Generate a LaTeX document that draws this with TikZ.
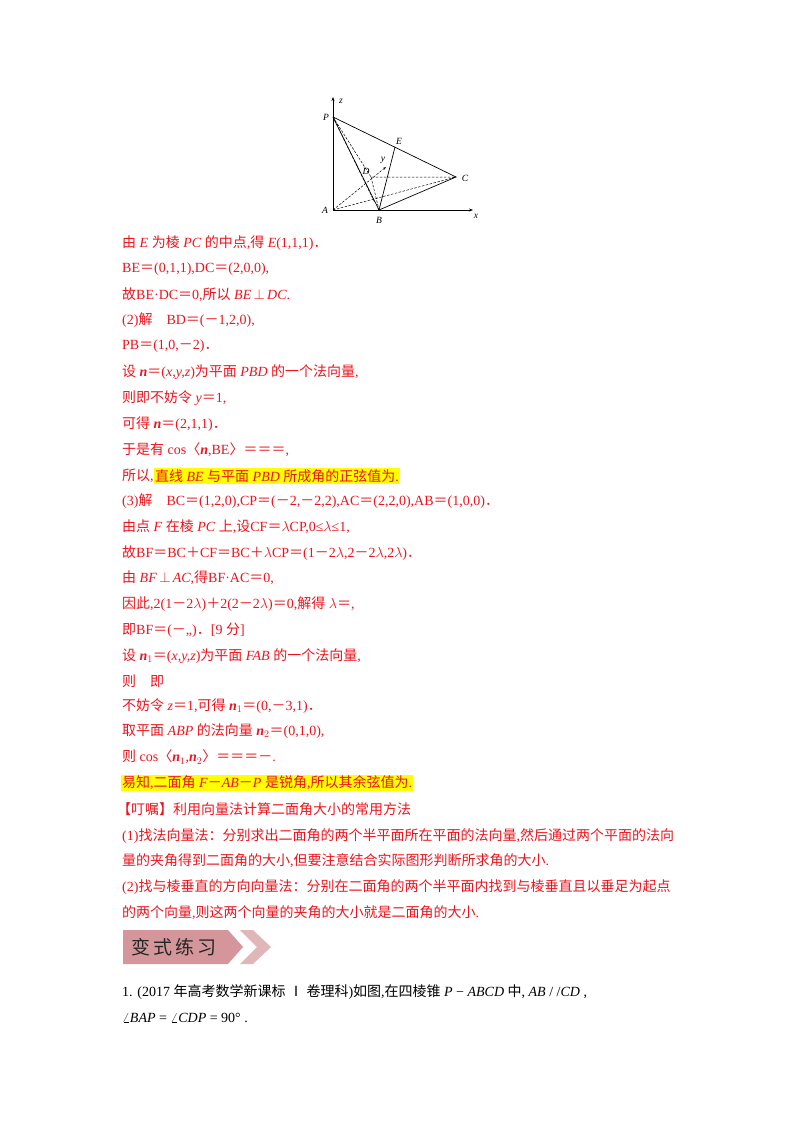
\documentclass[tikz,border=0pt]{standalone}
\usepackage{fontspec}
\setmainfont{Liberation Serif}
\newfontfamily\cjk{Noto Sans CJK SC}
\newfontfamily\cjkb{Noto Sans CJK SC}[FakeBold=3]
\XeTeXinterchartokenstate=1
\newXeTeXintercharclass\CJKc
\count255="4E00
\loop \XeTeXcharclass\count255=\CJKc \ifnum\count255<"9FFF \advance\count255 by 1 \repeat
\count255="3000
\loop \XeTeXcharclass\count255=\CJKc \ifnum\count255<"303F \advance\count255 by 1 \repeat
\count255="FF00
\loop \XeTeXcharclass\count255=\CJKc \ifnum\count255<"FFEF \advance\count255 by 1 \repeat
\XeTeXinterchartoks 0 \CJKc = {\begingroup\cjk}
\XeTeXinterchartoks 4095 \CJKc = {\begingroup\cjk}
\XeTeXinterchartoks \CJKc 0 = {\endgroup}
\XeTeXinterchartoks \CJKc 4095 = {\endgroup}
\usetikzlibrary{arrows.meta}
\definecolor{rd}{RGB}{235,20,30}
\definecolor{hl}{RGB}{255,255,0}
\definecolor{bn}{RGB}{212,150,155}
\newcommand{\pp}{\,$\perp$\,}
\begin{document}
\begin{tikzpicture}[x=1pt,y=-1pt,
  ln/.style={anchor=west,inner sep=0pt,text=rd,font=\fontsize{14}{16}\selectfont},
  bk/.style={ln,text=black},
  hb/.style={ln,fill=hl,inner sep=1pt},
  lab/.style={font=\fontsize{9.5}{10}\selectfont\itshape,inner sep=0pt},
  sl/.style={line width=0.7pt},
  dl/.style={line width=0.5pt,dash pattern=on 2.5pt off 1.5pt}]
\useasboundingbox (0,0) rectangle (800,1132);
% figure
\coordinate (A) at (333,210);
\coordinate (B) at (379,210);
\coordinate (C) at (456,177);
\coordinate (D) at (371,177);
\coordinate (P) at (333,117);
\coordinate (E) at (395,147);
\coordinate (Z) at (333,97);
\coordinate (X) at (473,210);
\coordinate (Y) at (386,167);
\coordinate (Q) at (375,203);
\draw[sl,-{Stealth[length=4pt]}] (A) -- (Z);
\draw[sl,-{Stealth[length=4pt]}] (A) -- (X);
\draw[dl,-{Stealth[length=3pt]}] (A) -- (Y);
\draw[sl] (P) -- (B) -- (C) -- (P);
\draw[sl] (B) -- (E);
\draw[dl] (P) -- (D) -- (C) (A) -- (C) (D) -- (B) (P) -- (Q);
\node[lab] (lz) at (341,101) {z};
\node[lab] (lP) at (326,117) {P};
\node[lab] (lE) at (399,141) {E};
\node[lab] (lD) at (366,171) {D};
\node[lab] (ly) at (383,160) {y};
\node[lab] (lC) at (465,178) {C};
\node[lab] (lA) at (325,210) {A};
\node[lab] (lB) at (379,220) {B};
\node[lab] (lx) at (476,216) {x};
% text
\node[ln] (t1) at (122,243) {由 \textit{E} 为棱 \textit{PC} 的中点,得 \textit{E}(1,1,1)．};
\node[ln] (t2) at (122,269) {BE＝(0,1,1),DC＝(2,0,0),};
\node[ln] (t3) at (122,295) {故BE·DC＝0,所以 \textit{BE}\pp\textit{DC}.};
\node[ln] (t4) at (122,320) {(2)解\quad BD＝(－1,2,0),};
\node[ln] (t5) at (122,346) {PB＝(1,0,－2)．};
\node[ln] (t6) at (122,372) {设 \textbf{\textit{n}}＝(\textit{x,y,z})为平面 \textit{PBD} 的一个法向量,};
\node[ln] (t7) at (122,398) {则即不妨令 \textit{y}＝1,};
\node[ln] (t8) at (122,424) {可得 \textbf{\textit{n}}＝(2,1,1)．};
\node[ln] (t9) at (122,450) {于是有 cos〈\textbf{\textit{n}},BE〉＝＝＝,};
\node[ln] (t10) at (122,476) {所以,};
\node[hb,anchor=west] (t10b) at (t10.east) {直线 \textit{BE} 与平面 \textit{PBD} 所成角的正弦值为.};
\node[ln] (t11) at (122,501) {(3)解\quad BC＝(1,2,0),CP＝(－2,－2,2),AC＝(2,2,0),AB＝(1,0,0)．};
\node[ln] (t12) at (122,527) {由点 \textit{F} 在棱 \textit{PC} 上,设CF＝$\lambda$CP,0≤$\lambda$≤1,};
\node[ln] (t13) at (122,553) {故BF＝BC＋CF＝BC＋$\lambda$CP＝(1－2$\lambda$,2－2$\lambda$,2$\lambda$)．};
\node[ln] (t14) at (122,578) {由 \textit{BF}\pp\textit{AC},得BF·AC＝0,};
\node[ln] (t15) at (122,604) {因此,2(1－2$\lambda$)＋2(2－2$\lambda$)＝0,解得 $\lambda$＝,};
\node[ln] (t16) at (122,630) {即BF＝(－,,)．[9 分]};
\node[ln] (t17) at (122,656) {设 \textbf{\textit{n}}$_1$＝(\textit{x,y,z})为平面 \textit{FAB} 的一个法向量,};
\node[ln] (t18) at (122,681) {则\quad 即};
\node[ln] (t19) at (122,706) {不妨令 \textit{z}＝1,可得 \textbf{\textit{n}}$_1$＝(0,－3,1)．};
\node[ln] (t20) at (122,731) {取平面 \textit{ABP} 的法向量 \textbf{\textit{n}}$_2$＝(0,1,0),};
\node[ln] (t21) at (122,757) {则 cos〈\textbf{\textit{n}}$_1$,\textbf{\textit{n}}$_2$〉＝＝＝－.};
\node[hb] (t22) at (121,783) {易知,二面角 \textit{F}－\textit{AB}－\textit{P} 是锐角,所以其余弦值为.};
\node[ln] (t23) at (117,809) {【叮嘱】利用向量法计算二面角大小的常用方法};
\node[ln] (t24) at (122,836) {(1)找法向量法：分别求出二面角的两个半平面所在平面的法向量,然后通过两个平面的法向};
\node[ln] (t25) at (122,861) {量的夹角得到二面角的大小,但要注意结合实际图形判断所求角的大小.};
\node[ln] (t26) at (122,887) {(2)找与棱垂直的方向向量法：分别在二面角的两个半平面内找到与棱垂直且以垂足为起点};
\node[ln] (t27) at (122,913) {的两个向量,则这两个向量的夹角的大小就是二面角的大小.};
% banner
\fill[bn] (123,930) -- (228,930) -- (243,947) -- (228,964) -- (123,964) -- cycle;
\fill[bn!70] (240,930) -- (253,930) -- (271,947) -- (253,964) -- (240,964) -- (257,947) -- cycle;
\node[inner sep=0pt,text=black!85,font=\fontsize{19}{20}\cjkb] (bt) at (174,947) {变\,式\,练\,习};
\node[bk] (t28) at (122,992) {1. (2017 年高考数学新课标 {\cjk Ⅰ} 卷理科)如图,在四棱锥 \textit{P} − \textit{ABCD} 中, \textit{AB} / /\textit{CD} ,};
\node[bk] (t29) at (122,1018) {$\angle$\textit{BAP} = $\angle$\textit{CDP} = 90° .};
\end{tikzpicture}
\end{document}
